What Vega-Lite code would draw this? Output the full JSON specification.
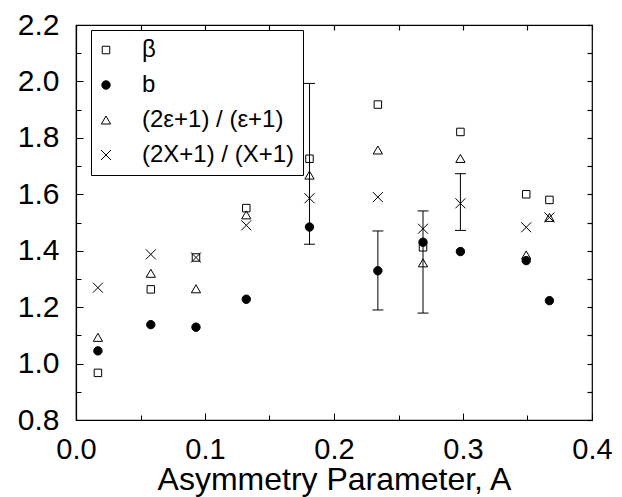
{
  "$schema": "https://vega.github.io/schema/vega-lite/v6.json",
  "width": 516,
  "height": 395,
  "autosize": {"type": "none"},
  "padding": {"left": 76, "top": 25, "right": 30, "bottom": 77},
  "background": "white",
  "config": {
    "font": "Liberation Sans",
    "view": {"stroke": "black", "strokeWidth": 1.2},
    "axis": {
      "grid": false,
      "domainColor": "black",
      "domainWidth": 1.2,
      "tickColor": "black",
      "tickWidth": 1,
      "labelColor": "black",
      "labelFontSize": 29,
      "titleFontSize": 32,
      "titleFontWeight": "normal",
      "titleColor": "black"
    }
  },
  "datasets": {
    "pts": [
      {"A": 0.017, "v": 0.967, "s": "β"},
      {"A": 0.058, "v": 1.263, "s": "β"},
      {"A": 0.093, "v": 1.376, "s": "β"},
      {"A": 0.132, "v": 1.551, "s": "β"},
      {"A": 0.181, "v": 1.726, "s": "β"},
      {"A": 0.234, "v": 1.918, "s": "β"},
      {"A": 0.269, "v": 1.412, "s": "β"},
      {"A": 0.298, "v": 1.821, "s": "β"},
      {"A": 0.349, "v": 1.600, "s": "β"},
      {"A": 0.367, "v": 1.580, "s": "β"},
      {"A": 0.017, "v": 1.093, "s": "(2ε+1) / (ε+1)"},
      {"A": 0.058, "v": 1.320, "s": "(2ε+1) / (ε+1)"},
      {"A": 0.093, "v": 1.265, "s": "(2ε+1) / (ε+1)"},
      {"A": 0.132, "v": 1.527, "s": "(2ε+1) / (ε+1)"},
      {"A": 0.181, "v": 1.668, "s": "(2ε+1) / (ε+1)"},
      {"A": 0.234, "v": 1.757, "s": "(2ε+1) / (ε+1)"},
      {"A": 0.269, "v": 1.357, "s": "(2ε+1) / (ε+1)"},
      {"A": 0.298, "v": 1.727, "s": "(2ε+1) / (ε+1)"},
      {"A": 0.349, "v": 1.385, "s": "(2ε+1) / (ε+1)"},
      {"A": 0.367, "v": 1.518, "s": "(2ε+1) / (ε+1)"},
      {"A": 0.017, "v": 1.269, "s": "(2X+1) / (X+1)"},
      {"A": 0.058, "v": 1.387, "s": "(2X+1) / (X+1)"},
      {"A": 0.093, "v": 1.376, "s": "(2X+1) / (X+1)"},
      {"A": 0.132, "v": 1.490, "s": "(2X+1) / (X+1)"},
      {"A": 0.181, "v": 1.586, "s": "(2X+1) / (X+1)"},
      {"A": 0.234, "v": 1.590, "s": "(2X+1) / (X+1)"},
      {"A": 0.269, "v": 1.478, "s": "(2X+1) / (X+1)"},
      {"A": 0.298, "v": 1.568, "s": "(2X+1) / (X+1)"},
      {"A": 0.349, "v": 1.483, "s": "(2X+1) / (X+1)"},
      {"A": 0.367, "v": 1.518, "s": "(2X+1) / (X+1)"},
      {"A": 0.017, "v": 1.045, "s": "b"},
      {"A": 0.058, "v": 1.138, "s": "b"},
      {"A": 0.093, "v": 1.129, "s": "b"},
      {"A": 0.132, "v": 1.228, "s": "b"},
      {"A": 0.181, "v": 1.484, "s": "b"},
      {"A": 0.234, "v": 1.329, "s": "b"},
      {"A": 0.269, "v": 1.430, "s": "b"},
      {"A": 0.298, "v": 1.397, "s": "b"},
      {"A": 0.349, "v": 1.365, "s": "b"},
      {"A": 0.367, "v": 1.223, "s": "b"}
    ],
    "err": [
      {"A": 0.181, "lo": 1.423, "hi": 1.993},
      {"A": 0.234, "lo": 1.19, "hi": 1.47},
      {"A": 0.269, "lo": 1.179, "hi": 1.541},
      {"A": 0.298, "lo": 1.472, "hi": 1.673}
    ]
  },
  "layer": [
    {
      "data": {"name": "pts"},
      "mark": {"type": "point", "opacity": 0},
      "encoding": {
        "x": {"field": "A", "type": "quantitative", "scale": {"domain": [0, 0.4], "nice": false, "zero": false},
          "axis": {"orient": "top", "title": null, "labels": false, "domain": false, "ticks": true, "values": [0, 0.05, 0.1, 0.15, 0.2, 0.25, 0.3, 0.35, 0.4], "tickSize": -5, "tickWidth": 1.2}},
        "y": {"field": "v", "type": "quantitative", "scale": {"domain": [0.8, 2.2], "nice": false, "zero": false},
          "axis": {"orient": "right", "title": null, "labels": false, "domain": false, "ticks": true, "values": [0.8, 0.9, 1.0, 1.1, 1.2, 1.3, 1.4, 1.5, 1.6, 1.7, 1.8, 1.9, 2.0, 2.1, 2.2], "tickSize": -5, "tickWidth": 1.2}}
      }
    },
    {
      "data": {"name": "err"},
      "mark": {"type": "rule", "color": "black", "strokeWidth": 1},
      "encoding": {
        "x": {"field": "A", "type": "quantitative", "axis": null},
        "y": {"field": "lo", "type": "quantitative", "axis": null},
        "y2": {"field": "hi"}
      }
    },
    {
      "data": {"name": "err"},
      "mark": {"type": "tick", "orient": "horizontal", "size": 11, "thickness": 1, "color": "black", "opacity": 1},
      "encoding": {
        "x": {"field": "A", "type": "quantitative", "axis": null},
        "y": {"field": "lo", "type": "quantitative", "axis": null}
      }
    },
    {
      "data": {"name": "err"},
      "mark": {"type": "tick", "orient": "horizontal", "size": 11, "thickness": 1, "color": "black", "opacity": 1},
      "encoding": {
        "x": {"field": "A", "type": "quantitative", "axis": null},
        "y": {"field": "hi", "type": "quantitative", "axis": null}
      }
    },
    {
      "data": {"name": "pts"},
      "mark": {"type": "point", "filled": true, "strokeWidth": 1, "opacity": 1, "fillOpacity": 1},
      "encoding": {
        "x": {"field": "A", "type": "quantitative",
          "axis": {"orient": "bottom", "title": "Asymmetry Parameter, A", "values": [0, 0.05, 0.1, 0.15, 0.2, 0.25, 0.3, 0.35, 0.4],
            "labelExpr": "round(datum.value*20) % 2 == 0 ? format(datum.value, '.1f') : ''",
            "tickSize": {"condition": {"test": "round(datum.value*20) % 2 == 0", "value": -7}, "value": -5},
            "labelPadding": 22, "titlePadding": -2, "labelFlush": false, "labelOverlap": false}},
        "y": {"field": "v", "type": "quantitative",
          "axis": {"orient": "left", "title": null, "values": [0.8, 0.9, 1.0, 1.1, 1.2, 1.3, 1.4, 1.5, 1.6, 1.7, 1.8, 1.9, 2.0, 2.1, 2.2],
            "labelExpr": "round(datum.value*10) % 2 == 0 ? format(datum.value, '.1f') : ''",
            "labelFontSize": 30,
            "tickSize": {"condition": {"test": "round(datum.value*10) % 2 == 0", "value": -7}, "value": -5},
            "labelPadding": 24, "labelFlush": false, "labelOverlap": false}},
        "shape": {"field": "s", "type": "nominal",
          "scale": {"domain": ["β", "b", "(2ε+1) / (ε+1)", "(2X+1) / (X+1)"], "range": ["square", "circle", "triangle-up", "M-1,-1L1,1M1,-1L-1,1"]},
          "legend": {"orient": "none", "legendX": 15, "legendY": 5, "title": null, "strokeColor": "black", "fillColor": "white", "padding": 8,
            "labelFontSize": 24, "labelColor": "black", "labelOffset": 24, "rowPadding": 11, "symbolOffset": -5, "symbolStrokeWidth": 1}},
        "fill": {"field": "s", "type": "nominal",
          "scale": {"domain": ["β", "b", "(2ε+1) / (ε+1)", "(2X+1) / (X+1)"], "range": ["transparent", "black", "transparent", "transparent"]},
          "legend": {"orient": "none", "legendX": 15, "legendY": 5, "title": null, "strokeColor": "black", "fillColor": "white", "padding": 8,
            "labelFontSize": 24, "labelColor": "black", "labelOffset": 24, "rowPadding": 11, "symbolOffset": -5, "symbolStrokeWidth": 1}},
        "stroke": {"field": "s", "type": "nominal",
          "scale": {"domain": ["β", "b", "(2ε+1) / (ε+1)", "(2X+1) / (X+1)"], "range": ["black", "black", "black", "black"]},
          "legend": {"orient": "none", "legendX": 15, "legendY": 5, "title": null, "strokeColor": "black", "fillColor": "white", "padding": 8,
            "labelFontSize": 24, "labelColor": "black", "labelOffset": 24, "rowPadding": 11, "symbolOffset": -5, "symbolStrokeWidth": 1}},
        "size": {"field": "s", "type": "nominal",
          "scale": {"domain": ["β", "b", "(2ε+1) / (ε+1)", "(2X+1) / (X+1)"], "range": [56, 100, 115, 90]},
          "legend": {"orient": "none", "legendX": 15, "legendY": 5, "title": null, "strokeColor": "black", "fillColor": "white", "padding": 8,
            "labelFontSize": 24, "labelColor": "black", "labelOffset": 24, "rowPadding": 11, "symbolOffset": -5, "symbolStrokeWidth": 1}}
      }
    }
  ],
  "resolve": {"axis": {"x": "independent", "y": "independent"}}
}
